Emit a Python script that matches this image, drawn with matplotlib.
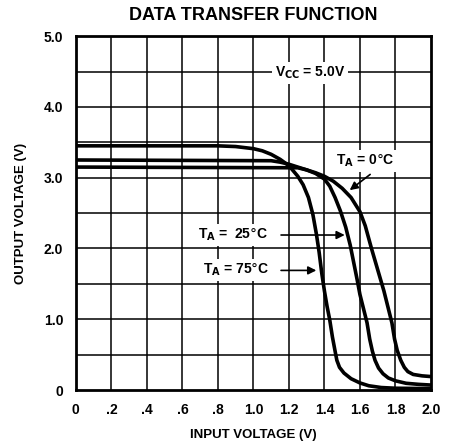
import numpy as np
import matplotlib
matplotlib.use("Agg")
import matplotlib.pyplot as plt

plt.rcParams['font.family'] = ['Liberation Sans', 'DejaVu Sans']

# Curvas (voltaje de entrada, voltaje de salida)
x_75 = [0, 0.8, 0.9, 1.0, 1.05, 1.1, 1.15, 1.2, 1.25, 1.28, 1.31, 1.335,
        1.355, 1.37, 1.385, 1.40, 1.415, 1.43, 1.445, 1.46, 1.47, 1.485,
        1.51, 1.55, 1.60, 1.65, 1.72, 1.8, 2.0]
y_75 = [3.45, 3.45, 3.44, 3.41, 3.38, 3.33, 3.26, 3.17, 3.02, 2.90, 2.72, 2.48,
        2.20, 1.95, 1.65, 1.40, 1.18, 0.99, 0.75, 0.55, 0.42, 0.32,
        0.24, 0.16, 0.10, 0.06, 0.035, 0.025, 0.02]

x_25 = [0, 1.1, 1.15, 1.2, 1.25, 1.3, 1.35, 1.40, 1.43, 1.46, 1.49, 1.52,
        1.545, 1.565, 1.585, 1.60, 1.62, 1.64, 1.655, 1.67, 1.685, 1.705,
        1.73, 1.76, 1.80, 1.86, 1.93, 2.0]
y_25 = [3.25, 3.24, 3.22, 3.19, 3.15, 3.11, 3.06, 2.98, 2.88, 2.72, 2.53, 2.30,
        2.05, 1.80, 1.55, 1.35, 1.15, 0.95, 0.72, 0.55, 0.42, 0.31,
        0.23, 0.17, 0.13, 0.095, 0.08, 0.07]

x_0 = [0, 1.25, 1.3, 1.35, 1.4, 1.45, 1.5, 1.55, 1.6, 1.63, 1.665, 1.70,
       1.735, 1.76, 1.78, 1.795, 1.81, 1.83, 1.85, 1.87, 1.9, 1.95, 2.0]
y_0 = [3.15, 3.14, 3.11, 3.07, 3.02, 2.95, 2.85, 2.72, 2.52, 2.32, 2.0, 1.70,
       1.40, 1.15, 0.95, 0.72, 0.56, 0.42, 0.32, 0.26, 0.22, 0.20, 0.19]

x_ticks = [0, 0.2, 0.4, 0.6, 0.8, 1.0, 1.2, 1.4, 1.6, 1.8, 2.0]
x_labels = ['0', '.2', '.4', '.6', '.8', '1.0', '1.2', '1.4', '1.6', '1.8', '2.0']
y_ticks = [0, 1, 2, 3, 4, 5]
y_labels = ['0', '1.0', '2.0', '3.0', '4.0', '5.0']

fig = plt.figure(figsize=(4.57, 4.44), dpi=100)
ax = fig.add_axes([0.166, 0.1216, 0.777, 0.797])

for xv in np.arange(0.2, 2.0, 0.2):
    ax.axvline(xv, color='black', lw=1.1, zorder=1)
for yv in np.arange(0.5, 5.0, 0.5):
    ax.axhline(yv, color='black', lw=1.1, zorder=1)

for xs, ys in [(x_75, y_75), (x_25, y_25), (x_0, y_0)]:
    ax.plot(xs, ys, color='black', lw=2.6, solid_capstyle='butt',
            solid_joinstyle='round', zorder=3)

ax.set_xlim(0, 2.0)
ax.set_ylim(0, 5.0)
ax.set_xticks(x_ticks)
ax.set_xticklabels(x_labels)
ax.set_yticks(y_ticks)
ax.set_yticklabels(y_labels)
ax.tick_params(length=0, labelsize=10, pad=9)
for lab in ax.get_xticklabels() + ax.get_yticklabels():
    lab.set_fontweight('bold')
for sp in ax.spines.values():
    sp.set_linewidth(2)

ax.set_xlabel('INPUT VOLTAGE (V)', fontsize=9.5, fontweight='bold', labelpad=9)
ax.set_ylabel('OUTPUT VOLTAGE (V)', fontsize=9.5, fontweight='bold', labelpad=12)
fig.text(0.555, 0.965, 'DATA TRANSFER FUNCTION', ha='center', va='center',
         fontsize=13, fontweight='bold')

tb = dict(facecolor='white', edgecolor='none', pad=2)
ax.text(1.32, 4.48, r'V$_{\mathbf{CC}}$ = 5.0V', ha='center', va='center',
        fontsize=10, fontweight='bold', bbox=tb, zorder=4)
ax.text(1.63, 3.24, r'T$_{\mathbf{A}}$ = 0$\degree$C', ha='center', va='center',
        fontsize=10, fontweight='bold', bbox=tb, zorder=4)
ax.text(0.885, 2.19, r'T$_{\mathbf{A}}$ =  25$\degree$C', ha='center', va='center',
        fontsize=10, fontweight='bold', bbox=tb, zorder=4)
ax.text(0.905, 1.70, r'T$_{\mathbf{A}}$ = 75$\degree$C', ha='center', va='center',
        fontsize=10, fontweight='bold', bbox=tb, zorder=4)

ap = dict(arrowstyle='-|>', color='black', lw=1.2, mutation_scale=12)
ax.annotate('', xy=(1.53, 2.80), xytext=(1.67, 3.07), arrowprops=ap, zorder=5)
ax.annotate('', xy=(1.53, 2.19), xytext=(1.14, 2.19), arrowprops=ap, zorder=5)
ax.annotate('', xy=(1.37, 1.69), xytext=(1.14, 1.69), arrowprops=ap, zorder=5)

fig.savefig('out.png', dpi=100)
